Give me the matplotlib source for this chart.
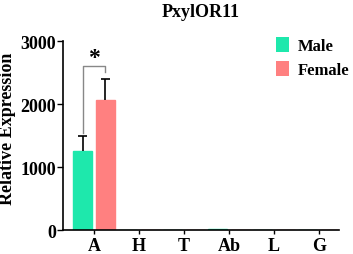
import matplotlib
matplotlib.use("Agg")
import matplotlib.pyplot as plt
import numpy as np
from matplotlib.patches import Patch

categories = ["A", "H", "T", "Ab", "L", "G"]
male = [1250, 4, 1, 14, 1, 1]
male_err = [235, 2, 1, 4, 1, 1]
female = [2060, 3, 1, 2, 1, 1]
female_err = [340, 2, 1, 1, 1, 1]
yticks = [0, 1000, 2000, 3000]

male_color = "#1ee8ac"
female_color = "#ff8080"

plt.rcParams['font.family'] = ['Liberation Serif', 'DejaVu Serif']
plt.rcParams['font.weight'] = 'bold'

fig = plt.figure(figsize=(3.53, 2.55), dpi=100)
ax = fig.add_axes([0.178, 0.094, 0.782, 0.741])

x = np.arange(len(categories))
w = 0.42
off = 0.25
ax.bar(x - off, male, w, color=male_color, edgecolor=male_color, zorder=2)
ax.bar(x + off, female, w, color=female_color, edgecolor=female_color, zorder=2)

cap = 0.1
for xs, vals, errs in [(x - off, male, male_err), (x + off, female, female_err)]:
    xi, v, e = xs[0], vals[0], errs[0]
    ax.vlines(xi, v, v + e, color='black', lw=1.2, zorder=3)
    ax.hlines(v + e, xi - cap, xi + cap, color='black', lw=1.2, zorder=3)

# significance bracket
by = 2600
ax.plot([x[0] - off, x[0] - off, x[0] + off, x[0] + off],
        [male[0] + male_err[0] + 60, by, by, 2510], color='#888888', lw=1.0, zorder=1)
ax.text(x[0], by - 30, "*", ha='center', va='bottom', fontsize=17, fontweight='bold')

ax.set_xlim(-0.69, 5.44)
ax.set_ylim(0, 3000)
ax.set_yticks(yticks)
ax.set_yticklabels([str(t) for t in yticks], fontsize=13, fontweight='bold')
ax.set_xticks(x)
ax.set_xticklabels(categories, fontsize=13, fontweight='bold')
ax.tick_params(axis='x', length=3, width=1.0, pad=2)
ax.tick_params(axis='y', length=4, width=1.0, pad=1)
for s in ['top', 'right']:
    ax.spines[s].set_visible(False)
for s in ['left', 'bottom']:
    ax.spines[s].set_linewidth(1.2)

ax.set_ylabel("Relative Expression", fontsize=13, fontweight='bold')
ax.yaxis.set_label_coords(-0.17, 0.54)
ax.set_title("PxylOR11", fontsize=13, fontweight='bold', pad=18)

handles = [Patch(facecolor=male_color, label="Male"), Patch(facecolor=female_color, label="Female")]
ax.legend(handles=handles, loc='upper left', bbox_to_anchor=(0.76, 1.04), frameon=False,
          handlelength=0.8, handleheight=1.0, handletextpad=0.5, labelspacing=0.4,
          borderaxespad=0.0, borderpad=0.2,
          prop={'weight': 'bold', 'size': 12})

fig.savefig("out.png", dpi=100)
